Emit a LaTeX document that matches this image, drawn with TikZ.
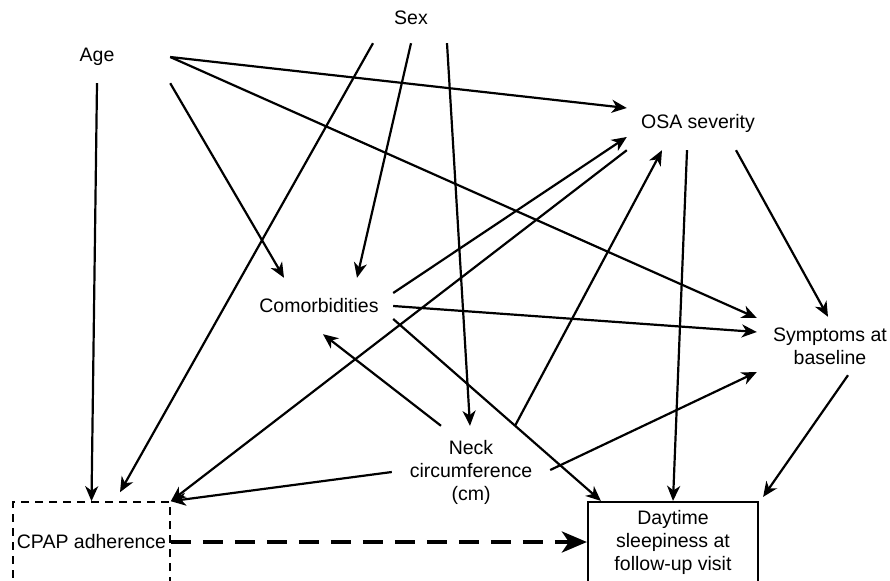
\documentclass[tikz,border=0pt]{standalone}
\usepackage{fontspec}
\setmainfont{Liberation Sans}
\usetikzlibrary{arrows.meta}
\begin{document}
\begin{tikzpicture}[x=1pt,y=-1pt,
  lbl/.style={inner sep=0pt, align=center, font=\fontsize{19.5}{23}\selectfont},
  arr/.style={line width=2.2pt, -{Stealth[length=15pt,width=13pt,inset=4.5pt]}},
  bigarr/.style={line width=4pt, dash pattern=on 20pt off 12pt,
    -{Stealth[length=25pt,width=21pt,inset=7pt]}},
  dashbox/.style={draw, line width=1.6pt, dash pattern=on 8pt off 6pt},
  solidbox/.style={draw, line width=2.2pt}]
\useasboundingbox (0,0) rectangle (890,580);
\clip (0,0) rectangle (890,580);

% variables
\node[lbl, minimum width=146pt, minimum height=52pt] (age) at (97,57) {Age};
\node[lbl, minimum width=150pt, minimum height=50pt] (sex) at (411,18) {Sex};
\node[lbl, minimum width=142pt, minimum height=54pt] (osa) at (698,123) {OSA severity};
\node[lbl, minimum width=148pt, minimum height=56pt] (com) at (319,306) {Comorbidities};
\node[lbl, minimum width=146pt, minimum height=58pt] (sym) at (830,346) {Symptoms at\\baseline};
\node[lbl, minimum width=158pt, minimum height=92pt] (neck) at (471,472) {Neck\\circumference\\(cm)};
\node[lbl, dashbox, minimum width=157pt, minimum height=80pt] (cpap) at (91.5,542) {CPAP adherence};
\node[lbl, solidbox, minimum width=170pt, minimum height=80pt] (day) at (673,542) {Daytime\\sleepiness at\\follow-up visit};

% causal paths
\draw[arr] (age.south) -- (cpap.north);
\draw[arr] (age.south east) -- ([xshift=-35pt]com.north);
\draw[arr] (age.east) -- ([yshift=15pt]osa.west);
\draw[arr] (age.east) -- ([yshift=28pt]sym.west);

\draw[arr] ([xshift=-38pt]sex.south) -- ([xshift=28.5pt,yshift=9pt]cpap.north);
\draw[arr] (sex.south) -- ([xshift=38pt]com.north);
\draw[arr] ([xshift=36pt]sex.south) -- ([xshift=-1pt]neck.north);

\draw[arr] (osa.south west) -- (cpap.north east);
\draw[arr] ([xshift=-11pt]osa.south) -- (day.north);
\draw[arr] ([xshift=38pt]osa.south) -- ([xshift=-2pt]sym.north);

\draw[arr] ([yshift=13pt]com.east) -- ([yshift=-14pt]osa.west);
\draw[arr] (com.east) -- ([yshift=14pt]sym.west);
\draw[arr] ([yshift=-13pt]com.east) -- ([xshift=14pt]day.north west);

\draw[arr] ([xshift=-30pt]neck.north) -- ([xshift=4pt]com.south);
\draw[arr] ([xshift=44pt]neck.north) -- ([xshift=-36pt]osa.south);
\draw[arr] ([yshift=2pt]neck.east) -- ([yshift=-26pt]sym.west);
\draw[arr] (neck.west) -- (cpap.north east);

\draw[arr] ([xshift=18pt]sym.south) -- ([xshift=4pt,yshift=4pt]day.north east);

% exposure to outcome
\draw[bigarr] (cpap.east) -- (day.west);
\end{tikzpicture}
\end{document}
